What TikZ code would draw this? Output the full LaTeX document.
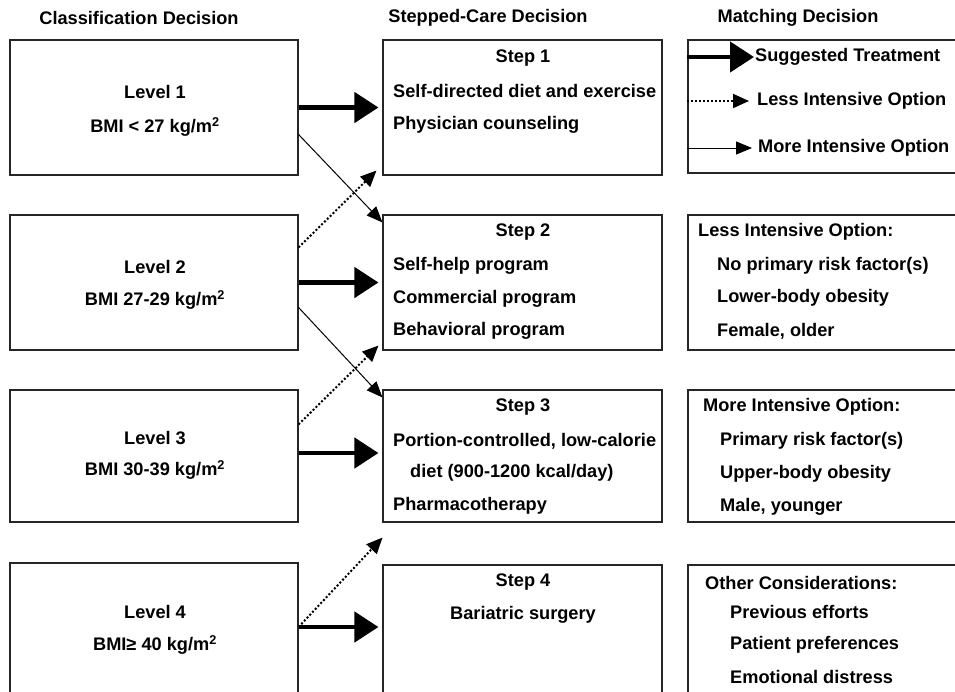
\documentclass[tikz,border=0pt]{standalone}
\usepackage{fontspec}
\setmainfont{Liberation Sans}
\usetikzlibrary{arrows.meta,calc}
\begin{document}
\begin{tikzpicture}[x=1pt,y=-1pt,
  box/.style={draw=black!85,line width=1.1pt,rectangle,inner sep=0pt},
  hdr/.style={font=\bfseries\fontsize{18.2}{21}\selectfont,inner sep=0pt},
  txt/.style={font=\bfseries\fontsize{18.2}{21}\selectfont,inner sep=0pt,anchor=west},
  ctxt/.style={font=\bfseries\fontsize{18.2}{21}\selectfont,inner sep=0pt},
  thick arrow/.style={line width=4.5pt,-{Triangle[length=24pt,width=30pt]},shorten >=4pt},
  thin arrow/.style={line width=1pt,-{Triangle[length=16pt,width=13pt]}},
  dot arrow/.style={line width=2pt,dotted,-{Triangle[length=16pt,width=14pt]}},
]
\useasboundingbox (0,0) rectangle (955,691);
% headers
\node[hdr] (h1) at (139,18) {Classification Decision};
\node[hdr] (h2) at (488,18) {Stepped-Care Decision};
\node[hdr] (h3) at (798,18) {Matching Decision};
% left boxes
\node[box,minimum width=288pt,minimum height=135pt] (L1) at (154,107.5) {};
\node[box,minimum width=288pt,minimum height=135pt] (L2) at (154,282.5) {};
\node[box,minimum width=288pt,minimum height=132pt] (L3) at (154,456) {};
\node[box,minimum width=288pt,minimum height=150pt] (L4) at (154,638) {};
% middle boxes
\node[box,minimum width=279pt,minimum height=135pt] (M1) at (522.5,107.5) {};
\node[box,minimum width=279pt,minimum height=135pt] (M2) at (522.5,282.5) {};
\node[box,minimum width=279pt,minimum height=132pt] (M3) at (522.5,456) {};
\node[box,minimum width=279pt,minimum height=150pt] (M4) at (522.5,640) {};
% right boxes
\node[box,minimum width=280pt,minimum height=133pt] (R1) at (828,106.5) {};
\node[box,minimum width=280pt,minimum height=135pt] (R2) at (828,282.5) {};
\node[box,minimum width=280pt,minimum height=132pt] (R3) at (828,456) {};
\node[box,minimum width=280pt,minimum height=150pt] (R4) at (828,640) {};
% left texts
\node[ctxt] (l1a) at (155,92) {Level 1};
\node[ctxt] (l1b) at (155,127) {BMI < 27 kg/m\textsuperscript{2}};
\node[ctxt] (l2a) at (155,267) {Level 2};
\node[ctxt] (l2b) at (155,300) {BMI 27-29 kg/m\textsuperscript{2}};
\node[ctxt] (l3a) at (155,438) {Level 3};
\node[ctxt] (l3b) at (155,470) {BMI 30-39 kg/m\textsuperscript{2}};
\node[ctxt] (l4a) at (155,612) {Level 4};
\node[ctxt] (l4b) at (155,645) {BMI≥ 40 kg/m\textsuperscript{2}};
% middle texts
\node[ctxt] (s1) at (523,58) {Step 1};
\node[txt] (s1a) at (393,91) {Self-directed diet and exercise};
\node[txt] (s1b) at (393,125) {Physician counseling};
\node[ctxt] (s2) at (523,232) {Step 2};
\node[txt] (s2a) at (393,266) {Self-help program};
\node[txt] (s2b) at (393,299) {Commercial program};
\node[txt] (s2c) at (393,331) {Behavioral program};
\node[ctxt] (s3) at (523,407) {Step 3};
\node[txt] (s3a) at (393,441) {Portion-controlled, low-calorie};
\node[txt] (s3b) at (410,473) {diet (900-1200 kcal/day)};
\node[txt] (s3c) at (393,506) {Pharmacotherapy};
\node[ctxt] (s4) at (523,582) {Step 4};
\node[ctxt] (s4a) at (523,615) {Bariatric surgery};
% right texts
\node[txt] (g1) at (755,57) {Suggested Treatment};
\node[txt] (g2) at (757,101) {Less Intensive Option};
\node[txt] (g3) at (758,148) {More Intensive Option};
\node[txt] (r2) at (698,232) {Less Intensive Option:};
\node[txt] (r2a) at (717,266) {No primary risk factor(s)};
\node[txt] (r2b) at (717,298) {Lower-body obesity};
\node[txt] (r2c) at (717,331) {Female, older};
\node[txt] (r3) at (703,407) {More Intensive Option:};
\node[txt] (r3a) at (720,441) {Primary risk factor(s)};
\node[txt] (r3b) at (720,474) {Upper-body obesity};
\node[txt] (r3c) at (720,507) {Male, younger};
\node[txt] (r4) at (705,583) {Other Considerations:};
\node[txt] (r4a) at (730,612) {Previous efforts};
\node[txt] (r4b) at (730,645) {Patient preferences};
\node[txt] (r4c) at (730,677) {Emotional distress};
% legend arrows
\coordinate (ga) at (R1.west |- g1.west);
\coordinate (gb) at (R1.west |- g2.west);
\coordinate (gc) at (R1.west |- g3.west);
\draw[thick arrow,shorten >=1pt] (ga) -- (g1.west);
\draw[dot arrow,shorten >=8pt] (gb) -- (g2.west);
\draw[thin arrow,shorten >=6pt] (gc) -- (g3.west);
% thick arrows
\coordinate (m4w) at (M4.west |- 0,627);
\coordinate (l4e) at (L4.east |- 0,627);
\draw[thick arrow] (L1.east) -- (L1.east -| M1.west);
\draw[thick arrow] (L2.east) -- (L2.east -| M2.west);
\draw[thick arrow] (L3.east |- 0,453) -- (M3.west |- 0,453);
\draw[thick arrow] (l4e) -- (m4w);
% thin arrows (more intensive)
\coordinate (t1s) at ($(L1.north east)+(0,95)$);
\coordinate (t1e) at ($(M2.north west)+(0,8)$);
\coordinate (t2s) at ($(L2.north east)+(0,93)$);
\coordinate (t2e) at ($(M3.north west)+(0,8)$);
\draw[thin arrow] (t1s) -- (t1e);
\draw[thin arrow] (t2s) -- (t2e);
% dotted arrows (less intensive)
\coordinate (d1s) at ($(L2.north east)+(0,33)$);
\coordinate (d1e) at ($(M1.south west)+(-6,-5)$);
\coordinate (d2s) at ($(L3.north east)+(0,35)$);
\coordinate (d2e) at ($(M2.south west)+(-4,-5)$);
\coordinate (d3e) at ($(M3.south west)+(0,15)$);
\draw[dot arrow] (d1s) -- (d1e);
\draw[dot arrow] (d2s) -- (d2e);
\draw[dot arrow] (l4e) -- (d3e);
\end{tikzpicture}
\end{document}
